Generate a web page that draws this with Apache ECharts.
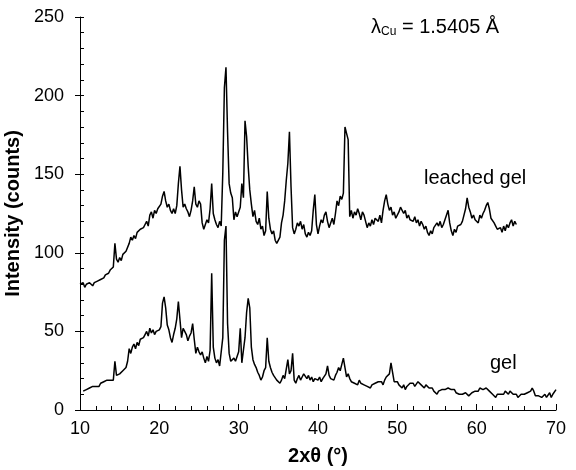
<!DOCTYPE html>
<html>
<head>
<meta charset="utf-8">
<script src="https://cdn.jsdelivr.net/npm/echarts@6/dist/echarts.min.js"></script>
<style>html,body{margin:0;padding:0;background:#fff}#c{width:576px;height:470px}</style>
</head>
<body>
<div id="c"></div>
<script>
// 2θ sampling grid (degrees)
const step = 0.2;
const leachedStart = 10.0;
const gelStart = 10.4;

// leached gel intensities, 10.0° to 65.0°
const leachedGel = [
  80,79,81,78,80,79,81,80,79,81,
  80,82,81,83,82,84,86,85,87,89,
  88,91,106,96,94,97,95,99,98,101,
  102,106,110,108,111,109,113,112,115,114,
  116,118,120,117,124,126,122,127,125,128,
  127,131,136,139,133,129,131,127,125,128,
  125,130,144,155,140,129,131,128,126,123,
  127,133,142,131,129,133,131,119,115,118,
  121,119,128,144,125,121,118,116,120,117,
  151,205,218,177,144,138,135,121,126,123,
  126,129,144,135,184,174,155,140,131,123,
  127,120,118,122,115,117,111,114,139,122,
  115,112,114,108,106,105,110,119,124,133,
  146,157,177,142,116,112,115,119,117,120,
  115,118,112,110,113,111,114,127,137,118,
  112,117,121,119,124,126,120,116,119,122,
  118,125,133,130,136,134,138,180,176,172,
  123,127,122,126,124,128,125,121,126,124,
  120,116,119,117,121,118,122,123,120,124,
  119,127,133,137,131,127,129,124,126,122,
  123,126,129,130,125,127,122,124,121,122,
  120,123,119,121,117,120,118,115,117,113,
  111,114,112,116,115,119,117,120,116,118,
  121,124,127,119,114,111,115,113,117,116,
  118,120,124,128,135,129,126,122,124,121,
  121,119,124,122,125,127,130,132,128,122,
  122,119,117,115,114,116,113,117,114,118,
  116,119,121,117,120,118
];

// gel intensities, 10.4° to 70.0°
const gel = [
  12,11,13,12,14,13,15,14,
  15,16,15,17,16,18,17,19,18,19,
  20,19,31,22,21,23,22,25,24,27,
  31,39,36,40,42,39,43,41,45,44,
  46,48,50,47,52,49,51,48,50,49,
  51,53,68,72,65,54,51,46,43,48,
  52,58,69,68,46,52,50,48,44,47,
  49,55,45,36,40,37,35,37,33,30,
  34,31,38,87,40,33,30,32,28,27,
  46,108,117,55,36,31,30,33,31,34,
  37,52,30,38,46,62,71,65,40,32,
  29,27,24,22,19,21,25,27,46,31,
  27,24,22,21,19,20,17,19,22,20,
  26,32,23,25,36,19,17,20,22,19,
  21,23,24,20,22,19,21,18,20,19,
  19,21,18,20,21,23,28,22,20,21,
  19,22,24,27,25,29,33,27,21,23,
  20,18,19,17,18,16,19,17,18,16,
  17,15,16,14,16,15,17,16,18,17,
  18,16,19,21,20,23,30,24,18,17,
  18,16,15,14,16,13,15,14,17,16,
  17,15,16,18,17,16,15,14,16,15,
  14,13,14,12,11,10,12,11,13,12,
  13,12,14,15,13,12,13,11,12,10,
  11,10,9,11,10,9,10,11,10,12,
  13,12,14,15,13,12,14,14,12,11,
  10,9,8,10,9,10,11,10,12,11,
  10,12,11,10,9,10,8,9,10,9,
  10,9,11,10,12,14,12,9,8,9,
  10,8,9,10,8,9,11,8,10,9,
  13
];

const xTicks = [10, 20, 30, 40, 50, 60, 70];
const yTicks = [0, 50, 100, 150, 200, 250];

const toPairs = (start, arr) => arr.map((v, i) => [+(start + i * step).toFixed(2), v]);

const FONT = '"Liberation Sans", Arial, sans-serif';
const chart = echarts.init(document.getElementById('c'), null, {renderer: 'canvas'});
chart.setOption({
  animation: false,
  backgroundColor: '#fff',
  grid: {left: 80, right: 20, top: 17, bottom: 60, containLabel: false, outerBoundsMode: 'none'},
  xAxis: {
    type: 'value', min: xTicks[0], max: xTicks[xTicks.length - 1], interval: 10,
    name: '2xθ (°)', nameLocation: 'middle', nameGap: 36,
    nameTextStyle: {fontFamily: FONT, fontSize: 20, fontWeight: 'bold', color: '#000'},
    axisLine: {lineStyle: {color: '#000', width: 1}},
    axisTick: {inside: true, length: 6, lineStyle: {color: '#000'}},
    minorTick: {show: true, splitNumber: 5, length: 4, lineStyle: {color: '#000'}},
    axisLabel: {fontFamily: FONT, fontSize: 18, color: '#000', margin: 10},
    splitLine: {show: false}
  },
  yAxis: [{
    type: 'value', min: yTicks[0], max: yTicks[yTicks.length - 1], interval: 50,
    name: 'Intensity (counts)', nameLocation: 'middle', nameGap: 48,
    nameTextStyle: {fontFamily: FONT, fontSize: 20, fontWeight: 'bold', color: '#000'},
    axisLine: {show: true, lineStyle: {color: '#000', width: 1}},
    axisTick: {show: true, inside: false, length: 5, lineStyle: {color: '#000'}},
    axisLabel: {fontFamily: FONT, fontSize: 18, color: '#000', margin: 16},
    splitLine: {show: false}
  }, {
    type: 'value', min: yTicks[0], max: yTicks[yTicks.length - 1], interval: 10,
    position: 'left', offset: 0,
    axisLine: {show: false},
    axisTick: {show: true, inside: true, length: 4, lineStyle: {color: '#000'}},
    axisLabel: {show: false},
    splitLine: {show: false}
  }],
  graphic: [
    {type: 'text', left: 371, top: 17, style: {
      text: '{l|λ}{s|Cu}{t| = 1.5405 Å}',
      rich: {
        l: {fontFamily: FONT, fontSize: 20, fill: '#000'},
        s: {fontFamily: FONT, fontSize: 12, fill: '#000', padding: [10, 0, 0, 0]},
        t: {fontFamily: FONT, fontSize: 20, fill: '#000'}
      }
    }},
    {type: 'text', left: 424, top: 168, style: {text: 'leached gel', fontFamily: FONT, fontSize: 20, fill: '#000'}},
    {type: 'text', left: 490, top: 353, style: {text: 'gel', fontFamily: FONT, fontSize: 20, fill: '#000'}}
  ],
  series: [
    {type: 'line', name: 'leached gel', data: toPairs(leachedStart, leachedGel), showSymbol: false, symbol: 'none',
     lineStyle: {color: '#000', width: 1.5}},
    {type: 'line', name: 'gel', data: toPairs(gelStart, gel), showSymbol: false, symbol: 'none',
     lineStyle: {color: '#000', width: 1.5}}
  ]
});
</script>
</body>
</html>
